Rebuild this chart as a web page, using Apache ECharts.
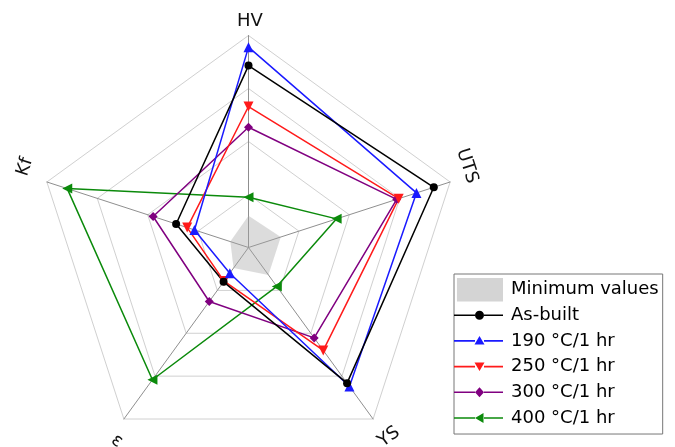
<!DOCTYPE html>
<html>
<head>
<meta charset="utf-8">
<script src="https://cdn.jsdelivr.net/npm/echarts@6/dist/echarts.min.js"></script>
<style>
  html, body { margin: 0; padding: 0; background: #fff; }
  #main { width: 675px; height: 447px; }
</style>
</head>
<body>
<div id="main"></div>
<script>
// indicators go counter-clockwise from the top
var indicators = ['HV', 'Kf', 'ε', 'YS', 'UTS'];
var seriesNames = ['Minimum values', 'As-built', '190 °C/1 hr', '250 °C/1 hr', '300 °C/1 hr', '400 °C/1 hr'];
// normalized values (0..1), order: HV, Kf, ε, YS, UTS
var minimumValues = [0.15, 0.09, 0.12, 0.16, 0.16];
var asBuilt       = [0.858, 0.359, 0.20, 0.791, 0.919];
var t190          = [0.945, 0.268, 0.15, 0.81, 0.833];
var t250          = [0.665, 0.304, 0.196, 0.60, 0.745];
var t300          = [0.567, 0.473, 0.315, 0.527, 0.735];
var t400          = [0.237, 0.899, 0.771, 0.227, 0.437];

var FONT = 'DejaVu Sans';

// legend icons: line with a marker in the middle, box 49 x 24
var box = 'M0 0M49 24';
var lineBar = 'M0 11.2h21v1.6h-21zM30 11.2h19v1.6h-19z';
var icons = {
  rect: 'path://' + box + 'M3 0h47v24h-47z',
  circle: 'path://' + box + lineBar + 'M21 12a4.5 4.5 0 1 0 9 0a4.5 4.5 0 1 0 -9 0z',
  up: 'path://' + box + lineBar + 'M25.5 7L30.5 15.5L20.5 15.5z',
  down: 'path://' + box + lineBar + 'M20.5 8L30.5 8L25.5 16.5z',
  diamond: 'path://' + box + lineBar + 'M25.5 7L30 12L25.5 17L21 12z',
  left: 'path://' + box + lineBar + 'M21 12L29.5 7L29.5 17z'
};

var symUp = 'path://M5 0L10 8.66L0 8.66z';
var symDown = 'path://M0 0L10 0L5 8.66z';
var symLeft = 'path://M0 5L8.66 0L8.66 10z';
var symDiamond = 'path://M5 0L10 5L5 10L0 5z';

function lineSeries(name, values, color, symbol, size) {
  return {
    type: 'radar',
    name: name,
    symbol: symbol,
    symbolSize: size,
    lineStyle: { color: color, width: 1.5 },
    itemStyle: { color: color },
    data: [{ name: name, value: values }]
  };
}

var myChart = echarts.init(document.getElementById('main'));
myChart.setOption({
  animation: false,
  backgroundColor: '#fff',
  legend: {
    orient: 'vertical',
    left: 454,
    top: 274,
    padding: [4, 4, 4, 0],
    itemWidth: 49,
    itemHeight: 24,
    itemGap: 1.7,
    borderColor: '#777',
    borderWidth: 1,
    borderRadius: 0,
    selectedMode: false,
    textStyle: { fontFamily: FONT, fontSize: 18, color: '#000', padding: [0, 0, 0, 3] },
    data: [
      { name: seriesNames[0], icon: icons.rect, itemStyle: { color: '#d4d4d4' } },
      { name: seriesNames[1], icon: icons.circle },
      { name: seriesNames[2], icon: icons.up },
      { name: seriesNames[3], icon: icons.down },
      { name: seriesNames[4], icon: icons.diamond },
      { name: seriesNames[5], icon: icons.left }
    ]
  },
  radar: {
    center: [248.5, 247.5],
    radius: 212,
    startAngle: 90,
    splitNumber: 4,
    shape: 'polygon',
    indicator: indicators.map(function (n) { return { name: n, min: 0, max: 1 }; }),
    axisName: { show: false },
    axisLine: { lineStyle: { color: '#8f8f8f', width: 1 } },
    splitLine: { lineStyle: { color: '#d0d0d0', width: 1 } },
    splitArea: { show: false },
    axisTick: { show: false },
    axisLabel: { show: false }
  },
  graphic: [
    { type: 'text', x: 250, y: 21, style: { text: 'HV', font: '18px ' + FONT, fill: '#111', align: 'center', verticalAlign: 'middle' } },
    { type: 'text', x: 467, y: 166, rotation: -72 * Math.PI / 180, style: { text: 'UTS', font: '18px ' + FONT, fill: '#111', align: 'center', verticalAlign: 'middle' } },
    { type: 'text', x: 25, y: 167, rotation: 72 * Math.PI / 180, style: { text: 'Kf', font: '18px ' + FONT, fill: '#111', align: 'center', verticalAlign: 'middle' } },
    { type: 'text', x: 389, y: 437, rotation: 36 * Math.PI / 180, style: { text: 'YS', font: '18px ' + FONT, fill: '#111', align: 'center', verticalAlign: 'middle' } },
    { type: 'text', x: 117, y: 441, rotation: -36 * Math.PI / 180, style: { text: 'ε', font: '18px ' + FONT, fill: '#111', align: 'center', verticalAlign: 'middle' } }
  ],
  series: [
    {
      type: 'radar',
      name: seriesNames[0],
      symbol: 'none',
      lineStyle: { width: 0, color: 'rgba(0,0,0,0)' },
      itemStyle: { color: '#c4c4c4' },
      areaStyle: { color: 'rgba(165,165,165,0.55)' },
      data: [{ name: seriesNames[0], value: minimumValues }]
    },
    lineSeries(seriesNames[5], t400, '#0b8a0b', symLeft, 10),
    lineSeries(seriesNames[4], t300, '#800080', symDiamond, 9),
    lineSeries(seriesNames[3], t250, '#ff1a1a', symDown, 10),
    lineSeries(seriesNames[2], t190, '#1a1aff', symUp, 10),
    lineSeries(seriesNames[1], asBuilt, '#000000', 'circle', 8)
  ]
});
</script>
</body>
</html>
